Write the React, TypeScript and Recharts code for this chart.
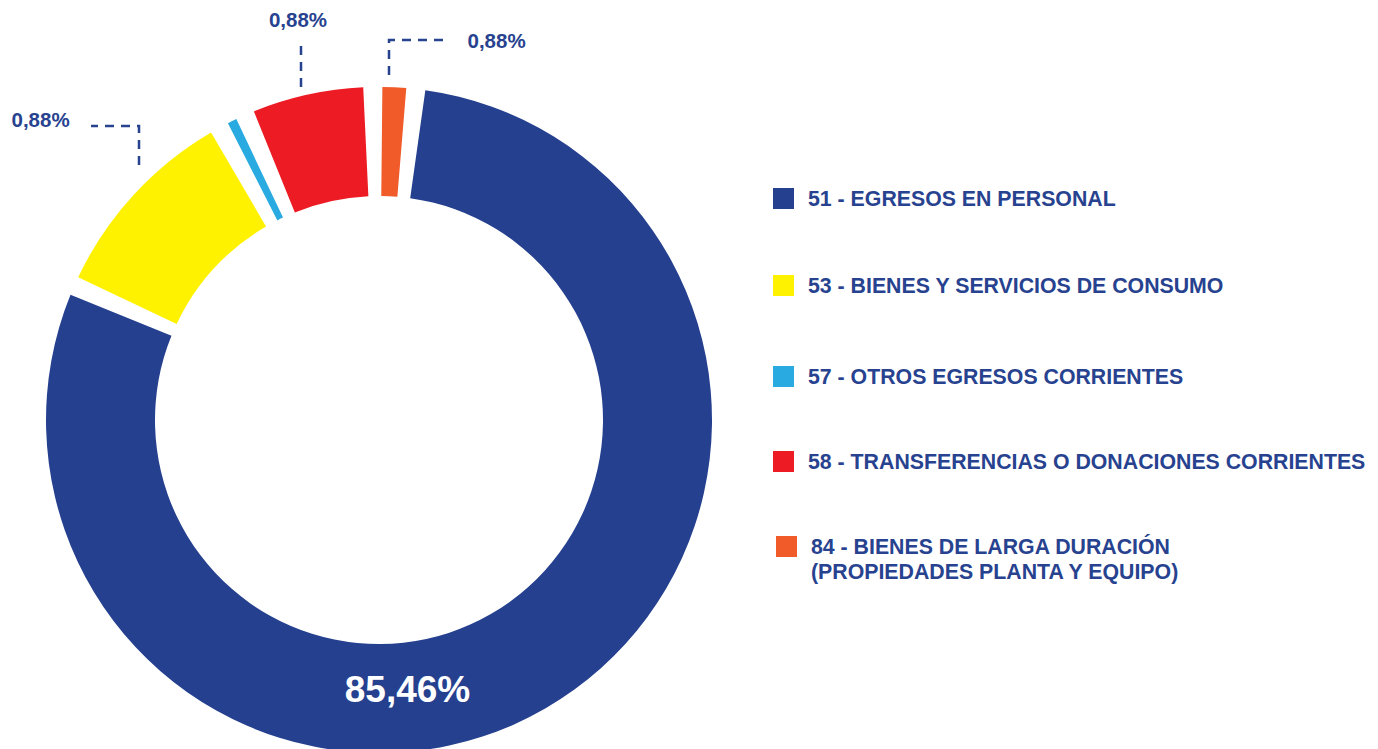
import { PieChart, Pie, Cell } from "recharts";

const categories = [
  "51 - EGRESOS EN PERSONAL",
  "53 - BIENES Y SERVICIOS DE CONSUMO",
  "57 - OTROS EGRESOS CORRIENTES",
  "58 - TRANSFERENCIAS O DONACIONES CORRIENTES",
  "84 - BIENES DE LARGA DURACIÓN\n(PROPIEDADES PLANTA Y EQUIPO)",
];

// shares
const shares = [82.8, 10.0, 0.47, 5.64, 1.2];

// texts printed on the picture
const sliceLabels = ["85,46%", "", "0,88%", "0,88%", "0,88%"];

const colors = ["#25408F", "#FFF200", "#29ABE2", "#ED1C24", "#F15A29"];

const TEXT = "#27428F";
const FONT = "'Liberation Sans', Arial, sans-serif";

const data = categories.map((name, i) => ({ name, value: shares[i] }));

const START = 90 - 8.0;

function renderLabel(props: any) {
  const { cx, cy, index } = props;
  const text = sliceLabels[index];
  if (!text) return null;
  const dash = { stroke: TEXT, strokeWidth: 2.5, strokeDasharray: "9 7", fill: "none" };

  if (index === 0) {
    return (
      <text x={cx + 28.5} y={cy + 282} textAnchor="middle" fill="#fff"
        fontFamily={FONT} fontWeight={700} fontSize={37}>
        {text}
      </text>
    );
  }
  if (index === 2) {
    return (
      <g>
        <path d={`M${cx - 240},${cy - 255} V${cy - 294} H${cx - 288}`} {...dash} />
        <text x={cx - 367.5} y={cy - 293.3} fill={TEXT} fontFamily={FONT}
          fontWeight={700} fontSize={20.5}>
          {text}
        </text>
      </g>
    );
  }
  if (index === 3) {
    return (
      <g>
        <path d={`M${cx - 78},${cy - 333} V${cy - 380}`} {...dash} />
        <text x={cx - 81} y={cy - 393.3} textAnchor="middle" fill={TEXT}
          fontFamily={FONT} fontWeight={700} fontSize={20.5}>
          {text}
        </text>
      </g>
    );
  }
  return (
    <g>
      <path d={`M${cx + 10},${cy - 345} V${cy - 380} H${cx + 71}`} {...dash} />
      <text x={cx + 88.5} y={cy - 371.7} fill={TEXT} fontFamily={FONT}
        fontWeight={700} fontSize={20.5}>
        {text}
      </text>
    </g>
  );
}

const legendTops = [186.5, 273.8, 364.8, 449.8, 534.8];

function LegendBlock() {
  return (
    <div style={{ position: "absolute", left: 0, top: 0, fontFamily: FONT }}>
      {categories.map((c, i) => {
        const last = i === categories.length - 1;
        return (
          <div key={c} style={{ position: "absolute", left: last ? 776 : 773, top: legendTops[i] }}>
            <div style={{
              position: "absolute", left: 0, top: 1.5, width: 21, height: 21,
              background: colors[i],
            }} />
            <div style={{
              position: "absolute", left: 35, top: 0, whiteSpace: "pre",
              fontSize: 21.3, fontWeight: 700, lineHeight: "25.5px", color: TEXT,
            }}>
              {c}
            </div>
          </div>
        );
      })}
    </div>
  );
}

export default function App() {
  return (
    <div style={{
      position: "absolute", left: 0, top: 0, width: 1378, height: 749,
      overflow: "hidden", background: "#fff",
    }}>
      <PieChart width={1378} height={749} margin={{ top: 0, right: 0, bottom: 0, left: 0 }}>
        <Pie
          data={data}
          dataKey="value"
          nameKey="name"
          cx={379}
          cy={420}
          innerRadius={224}
          outerRadius={333}
          startAngle={START}
          endAngle={START - 360}
          paddingAngle={3.3}
          stroke="none"
          label={renderLabel}
          labelLine={false}
          isAnimationActive={false}
        >
          {data.map((d, i) => (
            <Cell key={d.name} fill={colors[i]} />
          ))}
        </Pie>
      </PieChart>
      <LegendBlock />
    </div>
  );
}
